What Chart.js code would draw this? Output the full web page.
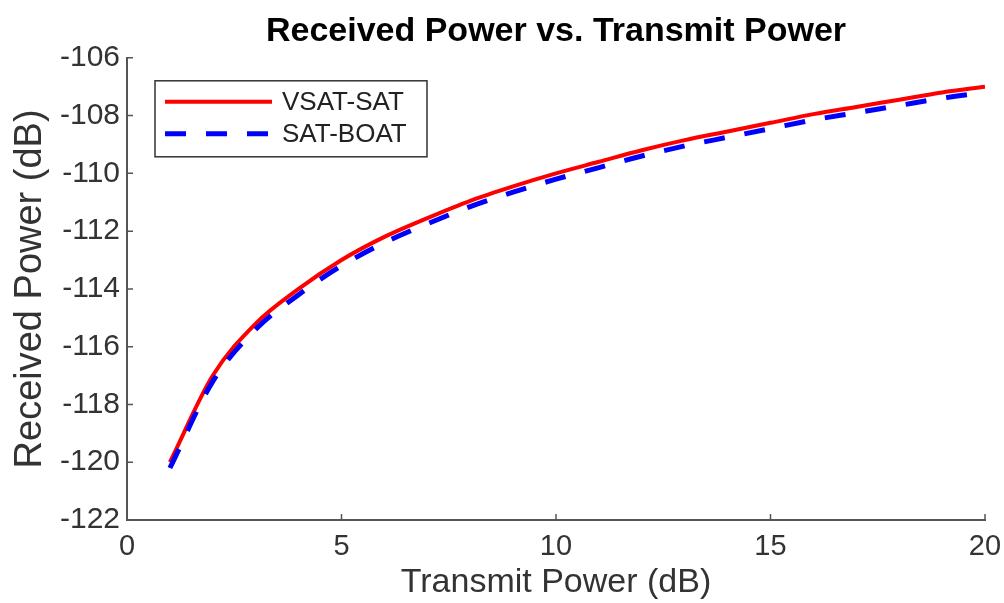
<!DOCTYPE html>
<html>
<head>
<meta charset="utf-8">
<script src="https://cdn.jsdelivr.net/npm/chart.js@4"></script>
<style>
    html, body { margin: 0; padding: 0; background: #fff; }
    #wrap { width: 1004px; height: 603px; }
</style>
</head>
<body>
<div id="wrap"><canvas id="powerChart" width="1004" height="603"></canvas></div>
<script>
// values
const transmitPower = [1, 2, 3, 4, 5, 6, 7, 8, 9, 10, 11, 12, 13, 14, 15, 16, 17, 18, 19, 20];
const vsatSat = [-120.0, -117.0, -115.2, -114.0, -113.0, -112.2, -111.55, -110.95, -110.45, -110.0,
                 -109.6, -109.2, -108.85, -108.55, -108.25, -107.95, -107.7, -107.45, -107.2, -107.0];
const satBoat = [-120.2, -117.2, -115.4, -114.2, -113.2, -112.4, -111.75, -111.15, -110.65, -110.2,
                 -109.8, -109.4, -109.05, -108.75, -108.45, -108.15, -107.9, -107.65, -107.4, -107.2];
const xTicks = [0, 5, 10, 15, 20];
const yTicks = [-122, -120, -118, -116, -114, -112, -110, -108, -106];

const FONT = "'Liberation Sans', Arial, sans-serif";
const AXIS = '#555555';

function points(ys) {
    return transmitPower.map((x, i) => ({ x: x, y: ys[i] }));
}

// MATLAB style ticks pointing into the plot
const innerTicks = {
    id: 'innerTicks',
    afterDatasetsDraw(chart) {
        const ctx = chart.ctx;
        const xs = chart.scales.x, ys = chart.scales.y;
        ctx.save();
        ctx.strokeStyle = AXIS;
        ctx.lineWidth = 1.5;
        ctx.beginPath();
        xTicks.forEach(v => {
            const px = xs.getPixelForValue(v);
            ctx.moveTo(px, ys.bottom);
            ctx.lineTo(px, ys.bottom - 6);
        });
        yTicks.forEach(v => {
            const py = ys.getPixelForValue(v);
            ctx.moveTo(xs.left, py);
            ctx.lineTo(xs.left + 6, py);
        });
        ctx.stroke();
        ctx.restore();
    }
};

// boxed legend in the upper left of the plot
const boxLegend = {
    id: 'boxLegend',
    afterDraw(chart) {
        const ctx = chart.ctx;
        const area = chart.chartArea;
        const x0 = area.left + 28, y0 = area.top + 23;
        const w = 272, h = 76;
        ctx.save();
        ctx.fillStyle = '#fff';
        ctx.fillRect(x0, y0, w, h);
        ctx.strokeStyle = '#333';
        ctx.lineWidth = 1.5;
        ctx.strokeRect(x0, y0, w, h);
        ctx.font = '26px ' + FONT;
        ctx.textBaseline = 'middle';
        chart.data.datasets.forEach((ds, i) => {
            const y = y0 + 21 + i * 32;
            ctx.strokeStyle = ds.borderColor;
            ctx.lineWidth = ds.borderWidth;
            ctx.setLineDash(ds.borderDash || []);
            ctx.beginPath();
            ctx.moveTo(x0 + 10, y);
            ctx.lineTo(x0 + 117, y);
            ctx.stroke();
            ctx.setLineDash([]);
            ctx.fillStyle = '#222';
            ctx.fillText(ds.label, x0 + 127, y + 1);
        });
        ctx.restore();
    }
};

const ctx = document.getElementById('powerChart').getContext('2d');
new Chart(ctx, {
    type: 'line',
    data: {
        datasets: [{
            label: 'VSAT-SAT',
            data: points(vsatSat),
            borderColor: '#ff0000',
            borderWidth: 4,
            pointRadius: 0,
            cubicInterpolationMode: 'monotone',
            order: 1
        }, {
            label: 'SAT-BOAT',
            data: points(satBoat),
            borderColor: '#0000ff',
            borderWidth: 5,
            borderDash: [21, 20],
            pointRadius: 0,
            cubicInterpolationMode: 'monotone',
            order: 0
        }]
    },
    options: {
        responsive: false,
        animation: false,
        layout: { padding: { left: 0, right: 19, top: 0, bottom: 0 } },
        plugins: {
            legend: { display: false },
            tooltip: { enabled: false },
            title: {
                display: true,
                fullSize: false,
                text: 'Received Power vs. Transmit Power',
                color: '#000',
                font: { family: FONT, size: 34, weight: 'bold' },
                padding: { top: 11, bottom: 6 }
            }
        },
        scales: {
            x: {
                type: 'linear',
                min: 0,
                max: 20,
                afterBuildTicks: s => { s.ticks = xTicks.map(v => ({ value: v })); },
                afterFit: s => { s.height = 83; s.paddingRight = 0; s.paddingLeft = 0; },
                grid: { display: false, drawTicks: false },
                border: { display: true, color: AXIS, width: 2 },
                ticks: { color: '#333', padding: 10, font: { family: FONT, size: 29 } },
                title: {
                    display: true,
                    text: 'Transmit Power (dB)',
                    color: '#333',
                    font: { family: FONT, size: 34 },
                    padding: { top: 0, bottom: 0 }
                }
            },
            y: {
                min: -122,
                max: -106,
                afterBuildTicks: s => { s.ticks = yTicks.map(v => ({ value: v })); },
                afterFit: s => { s.width = 127; },
                grid: { display: false, drawTicks: false },
                border: { display: true, color: AXIS, width: 2 },
                ticks: { color: '#333', padding: 7, font: { family: FONT, size: 30 } },
                title: {
                    display: true,
                    text: 'Received Power (dB)',
                    color: '#333',
                    font: { family: FONT, size: 38 },
                    padding: { top: 8, bottom: 0 }
                }
            }
        }
    },
    plugins: [innerTicks, boxLegend]
});
</script>
</body>
</html>
